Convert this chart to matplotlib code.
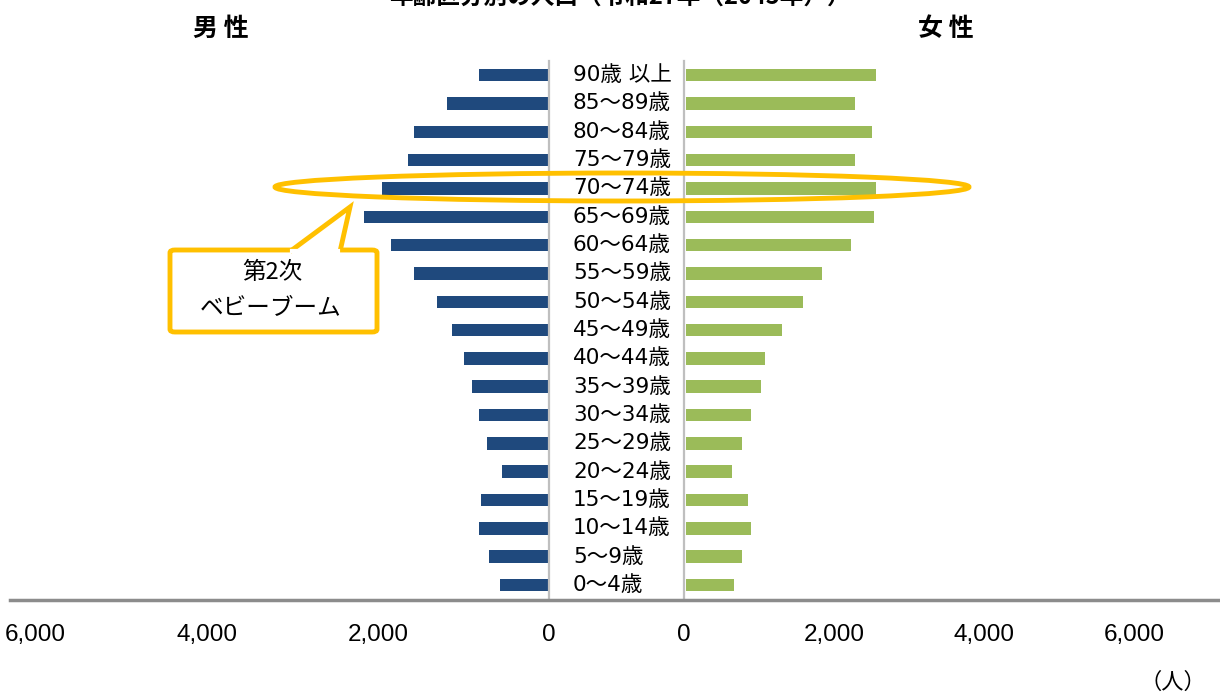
import matplotlib.pyplot as plt
import matplotlib.transforms as mtransforms
from matplotlib.patches import Ellipse, Polygon, FancyBboxPatch
from matplotlib.lines import Line2D

plt.rcParams['font.family'] = ['Noto Sans CJK JP', 'DejaVu Sans']

# 年齢区分（上から順）
ages = ['90歳 以上', '85～89歳', '80～84歳', '75～79歳', '70～74歳', '65～69歳',
        '60～64歳', '55～59歳', '50～54歳', '45～49歳', '40～44歳', '35～39歳',
        '30～34歳', '25～29歳', '20～24歳', '15～19歳', '10～14歳', '5～9歳', '0～4歳']
male = [820, 1190, 1580, 1650, 1950, 2160, 1850, 1580, 1310, 1130,
        990, 900, 820, 720, 550, 790, 820, 700, 570]
female = [2530, 2250, 2480, 2250, 2530, 2510, 2200, 1810, 1560, 1280,
          1050, 1000, 870, 750, 610, 830, 870, 750, 640]
ticks = [0, 2000, 4000, 6000]

navy = '#1F497D'
green = '#9BBB59'
orange = '#FFC000'

W, H = 1220, 696
fig = plt.figure(figsize=(W / 100, H / 100), dpi=100)

def fx(px):
    return px / W

def fy(py):
    return 1 - py / H

ypos = list(range(len(ages)))[::-1]

ax_m = fig.add_axes([fx(10), fy(600), fx(549 - 10), fy(61) - fy(600)])
ax_f = fig.add_axes([fx(684), fy(600), fx(1220 - 684), fy(61) - fy(600)])

ax_m.barh(ypos, male, height=0.44, color=navy)
ax_f.barh(ypos, female, height=0.44, color=green, left=25)

ax_m.set_xlim(6300, 0)
ax_f.set_xlim(0, 7150)
for ax in (ax_m, ax_f):
    ax.set_ylim(-0.53, 18.5)
    ax.set_yticks([])
    ax.set_xticks(ticks)
    ax.set_xticklabels([f'{t:,}' for t in ticks],
                       family=['Liberation Sans', 'DejaVu Sans'], fontsize=17.5)
    ax.tick_params(axis='x', length=0, pad=17)
    for s in ax.spines.values():
        s.set_visible(False)

ax_m.spines['right'].set_visible(True)
ax_m.spines['right'].set_color('#BFBFBF')
ax_m.spines['right'].set_linewidth(1.6)
ax_f.spines['left'].set_visible(True)
ax_f.spines['left'].set_color('#BFBFBF')
ax_f.spines['left'].set_linewidth(1.6)

# 年齢区分ラベル（中央）
trans = mtransforms.blended_transform_factory(fig.transFigure, ax_m.transData)
for y, a in zip(ypos, ages):
    ax_m.text(fx(573), y, a, transform=trans, ha='left', va='center',
              family=['DejaVu Sans', 'Noto Sans CJK JP'], fontsize=15.5,
              clip_on=False)

# 下の軸線
fig.add_artist(Line2D([fx(10), fx(1220)], [fy(600), fy(600)],
                      color='#8C8C8C', lw=2.5, transform=fig.transFigure))

# 見出し
fig.text(fx(620), fy(-3), '年齢区分別の人口（令和27年（2045年））', ha='center',
         va='center', fontsize=17, fontweight='bold')
fig.text(fx(221), fy(29), '男 性', ha='center', va='center', fontsize=18, fontweight='bold')
fig.text(fx(946), fy(29), '女 性', ha='center', va='center', fontsize=18, fontweight='bold')
fig.text(fx(1173), fy(682), '（人）', ha='center', va='center', fontsize=16)

# 第2次ベビーブームの囲み
fig.add_artist(Ellipse((fx(622), fy(187)), fx(694), fy(0) - fy(28), fill=False,
                       ec=orange, lw=3.5, transform=fig.transFigure))

box = FancyBboxPatch((fx(170), fy(332)), fx(207), fy(250) - fy(332),
                     boxstyle='round,pad=0,rounding_size=0.004', fc='white',
                     ec=orange, lw=3.5, transform=fig.transFigure, zorder=5)
fig.add_artist(box)
tail = Polygon([(fx(290), fy(251.5)), (fx(350), fy(207)), (fx(340), fy(251.5))],
               closed=False, fc='white', ec=orange, lw=3.5, joinstyle='miter',
               transform=fig.transFigure, zorder=6)
fig.add_artist(tail)
fig.add_artist(Line2D([fx(292), fx(338)], [fy(251), fy(251)], color='white', lw=3,
                      transform=fig.transFigure, zorder=7))
fig.text(fx(272), fy(273), '第2次', ha='center', va='center', fontsize=17,
         family=['Noto Sans CJK JP', 'DejaVu Sans'], zorder=8)
fig.text(fx(271), fy(308), 'ベビーブーム', ha='center', va='center', fontsize=17, zorder=8)

fig.savefig('out.png', dpi=100, facecolor='white')
